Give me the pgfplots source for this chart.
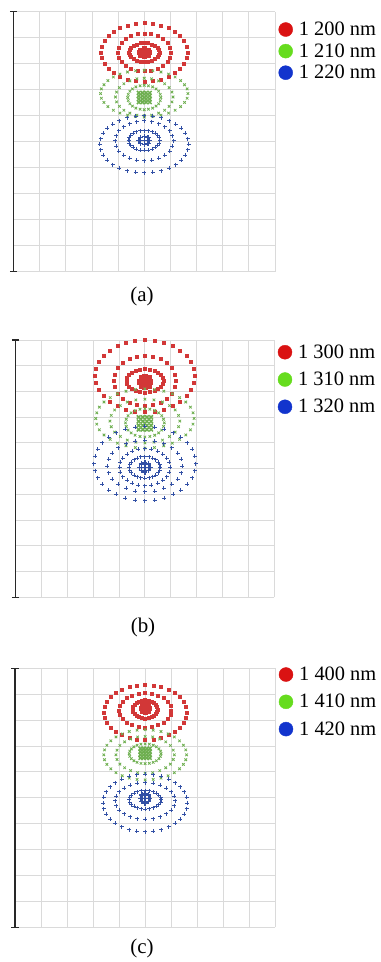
\documentclass[border=0pt]{standalone}
\usepackage{pgfplots}
\pgfplotsset{compat=1.18}
\usepackage{fontspec}
\setmainfont{Liberation Serif}
\newfontfamily\legfont{Liberation Serif}
\definecolor{ptred}{RGB}{210,55,55}
\definecolor{ptgreen}{RGB}{110,175,80}
\definecolor{ptblue}{RGB}{50,80,165}
\definecolor{lgred}{RGB}{218,18,18}
\definecolor{lggreen}{RGB}{102,220,30}
\definecolor{lgblue}{RGB}{18,52,205}
\definecolor{gridgray}{RGB}{218,218,218}
\definecolor{axisblack}{RGB}{40,40,40}
\pgfplotsset{
  spotaxis/.style={
    scale only axis, xmin=-5, xmax=5, ymin=-5, ymax=5,
    xtick={-5,...,5}, ytick={-5,...,5}, xticklabels={}, yticklabels={},
    major tick length=0pt, grid=major,
    major grid style={draw=gridgray, line width=0.9bp},
    axis line style={draw=none}, clip=false, anchor=north west,
    legend style={draw=none, fill=none, at={(1,1)}, anchor=north west,
      inner sep=0pt, outer sep=0pt, column sep=6bp,
      nodes={inner sep=0pt, font=\legfont\fontsize{20.5}{24}\selectfont}},
    legend cell align=left,
    legend image code/.code={\fill[##1] (7bp,0pt) circle (7bp);},
  },
  redpts/.style={only marks, mark=square*, mark size=1.5bp, color=ptred, forget plot},
  greenpts/.style={only marks, mark=x, mark size=1.8bp, line width=0.8bp, color=ptgreen, forget plot},
  bluepts/.style={only marks, mark=+, mark size=2bp, line width=0.9bp, color=ptblue, forget plot},
}
\newcommand{\leftaxis}{%
  \draw[axisblack, line width=1.8bp] (axis cs:-5,-5) -- (axis cs:-5,5);
  \draw[axisblack, line width=1.5bp] ([xshift=-3.5bp]axis cs:-5,5) -- ([xshift=3.5bp]axis cs:-5,5);
  \draw[axisblack, line width=1.5bp] ([xshift=-3.5bp]axis cs:-5,-5) -- ([xshift=3.5bp]axis cs:-5,-5);
}
\begin{document}
\begin{tikzpicture}
\useasboundingbox (0,0) rectangle (381bp,-962bp);

% ---------------- (a) ----------------
\begin{axis}[spotaxis, at={(13.5bp,-11.7bp)}, width=261.5bp, height=260bp,
  legend style={xshift=3.5bp, yshift=-10.3bp, row sep=6.5bp}]
\addplot[redpts] coordinates {
(1.65,3.44)(1.62,3.66)(1.52,3.87)(1.37,4.07)(1.17,4.24)(0.92,4.38)(0.63,4.48)(0.32,4.55)(0,4.57)
(-0.32,4.55)(-0.63,4.48)(-0.92,4.38)(-1.17,4.24)(-1.37,4.07)(-1.52,3.87)(-1.62,3.66)(-1.65,3.44)
(-1.62,3.22)(-1.52,3.01)(-1.37,2.81)(-1.17,2.64)(-0.92,2.50)(-0.63,2.40)(-0.32,2.33)(0,2.31)
(0.32,2.33)(0.63,2.40)(0.92,2.50)(1.17,2.64)(1.37,2.81)(1.52,3.01)(1.62,3.22)
(1.02,3.44)(0.99,3.63)(0.88,3.80)(0.72,3.95)(0.51,4.06)(0.26,4.14)(0,4.16)
(-0.26,4.14)(-0.51,4.06)(-0.72,3.95)(-0.88,3.80)(-0.99,3.63)(-1.02,3.44)
(-0.99,3.25)(-0.88,3.08)(-0.72,2.93)(-0.51,2.82)(-0.26,2.74)(0,2.72)
(0.26,2.74)(0.51,2.82)(0.72,2.93)(0.88,3.08)(0.99,3.25)
(0.58,3.44)(0.56,3.53)(0.50,3.62)(0.41,3.69)(0.29,3.75)(0.15,3.79)(0,3.80)
(-0.15,3.79)(-0.29,3.75)(-0.41,3.69)(-0.50,3.62)(-0.56,3.53)(-0.58,3.44)
(-0.56,3.35)(-0.50,3.26)(-0.41,3.19)(-0.29,3.13)(-0.15,3.09)(0,3.08)
(0.15,3.09)(0.29,3.13)(0.41,3.19)(0.50,3.26)(0.56,3.35)
};
\addplot[redpts, mark size=2.2bp] coordinates {
(0,3.44)(0.18,3.44)(0.13,3.53)(0,3.57)(-0.13,3.53)(-0.18,3.44)(-0.13,3.35)(0,3.31)(0.13,3.35)
};
\addplot[greenpts] coordinates {
(1.67,1.85)(1.64,2.03)(1.54,2.19)(1.39,2.35)(1.18,2.49)(0.93,2.60)(0.64,2.68)(0.33,2.73)(0,2.75)
(-0.33,2.73)(-0.64,2.68)(-0.93,2.60)(-1.18,2.49)(-1.39,2.35)(-1.54,2.19)(-1.64,2.03)(-1.67,1.85)
(-1.64,1.67)(-1.54,1.51)(-1.39,1.35)(-1.18,1.21)(-0.93,1.10)(-0.64,1.02)(-0.33,0.97)(0,0.95)
(0.33,0.97)(0.64,1.02)(0.93,1.10)(1.18,1.21)(1.39,1.35)(1.54,1.51)(1.64,1.67)
(1.10,1.72)(1.06,1.91)(0.95,2.08)(0.78,2.23)(0.55,2.34)(0.28,2.42)(0,2.44)
(-0.28,2.42)(-0.55,2.34)(-0.78,2.23)(-0.95,2.08)(-1.06,1.91)(-1.10,1.72)
(-1.06,1.53)(-0.95,1.36)(-0.78,1.21)(-0.55,1.10)(-0.28,1.02)(0,1.00)
(0.28,1.02)(0.55,1.10)(0.78,1.21)(0.95,1.36)(1.06,1.53)
(0.63,1.70)(0.61,1.82)(0.55,1.94)(0.45,2.03)(0.32,2.11)(0.16,2.15)(0,2.17)
(-0.16,2.15)(-0.32,2.11)(-0.45,2.03)(-0.55,1.94)(-0.61,1.82)(-0.63,1.70)
(-0.61,1.58)(-0.55,1.46)(-0.45,1.37)(-0.32,1.29)(-0.16,1.25)(0,1.23)
(0.16,1.25)(0.32,1.29)(0.45,1.37)(0.55,1.46)(0.61,1.58)
};
\addplot[greenpts, mark size=2.6bp, line width=1.5bp] coordinates {
(-0.21,1.52)(-0.07,1.52)(0.07,1.52)(0.21,1.52)
(-0.21,1.64)(-0.07,1.64)(0.07,1.64)(0.21,1.64)
(-0.21,1.76)(-0.07,1.76)(0.07,1.76)(0.21,1.76)
(-0.21,1.88)(-0.07,1.88)(0.07,1.88)(0.21,1.88)
};
\addplot[bluepts] coordinates {
(1.70,-0.10)(1.67,0.11)(1.57,0.32)(1.41,0.51)(1.20,0.68)(0.95,0.81)(0.65,0.92)(0.33,0.98)(0,1.00)
(-0.33,0.98)(-0.65,0.92)(-0.95,0.81)(-1.20,0.68)(-1.41,0.51)(-1.57,0.32)(-1.67,0.11)(-1.70,-0.10)
(-1.67,-0.31)(-1.57,-0.52)(-1.41,-0.71)(-1.20,-0.88)(-0.95,-1.01)(-0.65,-1.12)(-0.33,-1.18)(0,-1.20)
(0.33,-1.18)(0.65,-1.12)(0.95,-1.01)(1.20,-0.88)(1.41,-0.71)(1.57,-0.52)(1.67,-0.31)
(1.12,0.03)(1.08,0.23)(0.97,0.42)(0.79,0.57)(0.56,0.70)(0.29,0.77)(0,0.80)
(-0.29,0.77)(-0.56,0.70)(-0.79,0.57)(-0.97,0.42)(-1.08,0.23)(-1.12,0.03)
(-1.08,-0.17)(-0.97,-0.36)(-0.79,-0.51)(-0.56,-0.64)(-0.29,-0.71)(0,-0.74)
(0.29,-0.71)(0.56,-0.64)(0.79,-0.51)(0.97,-0.36)(1.08,-0.17)
(0.60,0.05)(0.58,0.15)(0.52,0.24)(0.42,0.32)(0.30,0.38)(0.16,0.42)(0,0.43)
(-0.16,0.42)(-0.30,0.38)(-0.42,0.32)(-0.52,0.24)(-0.58,0.15)(-0.60,0.05)
(-0.58,-0.05)(-0.52,-0.14)(-0.42,-0.22)(-0.30,-0.28)(-0.16,-0.32)(0,-0.33)
(0.16,-0.32)(0.30,-0.28)(0.42,-0.22)(0.52,-0.14)(0.58,-0.05)
};
\addplot[bluepts, mark size=2.6bp, line width=1.5bp] coordinates {
(0,0.05)(0.2,0.05)(0.14,0.16)(0,0.2)(-0.14,0.16)(-0.2,0.05)(-0.14,-0.06)(0,-0.1)(0.14,-0.06)
};
\leftaxis
\addlegendimage{lgred}\addlegendentry{1 200 nm}
\addlegendimage{lggreen}\addlegendentry{1 210 nm}
\addlegendimage{lgblue}\addlegendentry{1 220 nm}
\end{axis}

% ---------------- (b) ----------------
\begin{axis}[spotaxis, at={(15.5bp,-340bp)}, width=258.8bp, height=257.3bp,
  legend style={xshift=3.5bp, yshift=-4.7bp, row sep=12.2bp}]
\addplot[redpts] coordinates {
(1.93,3.60)(1.89,3.87)(1.78,4.14)(1.60,4.38)(1.36,4.59)(1.07,4.76)(0.74,4.89)(0.38,4.97)(0,5.00)
(-0.38,4.97)(-0.74,4.89)(-1.07,4.76)(-1.36,4.59)(-1.60,4.38)(-1.78,4.14)(-1.89,3.87)(-1.93,3.60)
(-1.89,3.33)(-1.78,3.06)(-1.60,2.82)(-1.36,2.61)(-1.07,2.44)(-0.74,2.31)(-0.38,2.23)(0,2.20)
(0.38,2.23)(0.74,2.31)(1.07,2.44)(1.36,2.61)(1.60,2.82)(1.78,3.06)(1.89,3.33)
(1.20,3.42)(1.16,3.67)(1.04,3.91)(0.85,4.11)(0.60,4.27)(0.31,4.37)(0,4.40)
(-0.31,4.37)(-0.60,4.27)(-0.85,4.11)(-1.04,3.91)(-1.16,3.67)(-1.20,3.42)
(-1.16,3.17)(-1.04,2.93)(-0.85,2.73)(-0.60,2.57)(-0.31,2.47)(0,2.44)
(0.31,2.47)(0.60,2.57)(0.85,2.73)(1.04,2.93)(1.16,3.17)
(0.72,3.42)(0.70,3.54)(0.62,3.64)(0.51,3.74)(0.36,3.81)(0.19,3.85)(0,3.87)
(-0.19,3.85)(-0.36,3.81)(-0.51,3.74)(-0.62,3.64)(-0.70,3.54)(-0.72,3.42)
(-0.70,3.30)(-0.62,3.20)(-0.51,3.10)(-0.36,3.03)(-0.19,2.99)(0,2.97)
(0.19,2.99)(0.36,3.03)(0.51,3.10)(0.62,3.20)(0.70,3.30)
};
\addplot[redpts, mark size=2.2bp] coordinates {
(0,3.38)(0.2,3.38)(0.14,3.54)(0,3.60)(-0.14,3.54)(-0.2,3.38)(-0.14,3.22)(0,3.16)(0.14,3.22)
};
\addplot[greenpts] coordinates {
(1.90,1.95)(1.86,2.17)(1.76,2.39)(1.58,2.59)(1.34,2.76)(1.06,2.91)(0.73,3.01)(0.37,3.08)(0,3.10)
(-0.37,3.08)(-0.73,3.01)(-1.06,2.91)(-1.34,2.76)(-1.58,2.59)(-1.76,2.39)(-1.86,2.17)(-1.90,1.95)
(-1.86,1.73)(-1.76,1.51)(-1.58,1.31)(-1.34,1.14)(-1.06,0.99)(-0.73,0.89)(-0.37,0.82)(0,0.80)
(0.37,0.82)(0.73,0.89)(1.06,0.99)(1.34,1.14)(1.58,1.31)(1.76,1.51)(1.86,1.73)
(1.35,1.85)(1.30,2.07)(1.17,2.28)(0.95,2.45)(0.68,2.59)(0.35,2.67)(0,2.70)
(-0.35,2.67)(-0.68,2.59)(-0.95,2.45)(-1.17,2.28)(-1.30,2.07)(-1.35,1.85)
(-1.30,1.63)(-1.17,1.42)(-0.95,1.25)(-0.68,1.11)(-0.35,1.03)(0,1.00)
(0.35,1.03)(0.68,1.11)(0.95,1.25)(1.17,1.42)(1.30,1.63)
(0.75,1.78)(0.72,1.92)(0.65,2.06)(0.53,2.17)(0.38,2.26)(0.19,2.31)(0,2.33)
(-0.19,2.31)(-0.38,2.26)(-0.53,2.17)(-0.65,2.06)(-0.72,1.92)(-0.75,1.78)
(-0.72,1.64)(-0.65,1.50)(-0.53,1.39)(-0.38,1.30)(-0.19,1.25)(0,1.23)
(0.19,1.25)(0.38,1.30)(0.53,1.39)(0.65,1.50)(0.72,1.64)
};
\addplot[greenpts, mark size=2.6bp, line width=1.5bp] coordinates {
(-0.24,1.52)(-0.08,1.52)(0.08,1.52)(0.24,1.52)
(-0.24,1.68)(-0.08,1.68)(0.08,1.68)(0.24,1.68)
(-0.24,1.84)(-0.08,1.84)(0.08,1.84)(0.24,1.84)
(-0.24,2.00)(-0.08,2.00)(0.08,2.00)(0.24,2.00)
};
\addplot[bluepts] coordinates {
(1.97,0.20)(1.93,0.48)(1.82,0.76)(1.64,1.01)(1.39,1.23)(1.10,1.40)(0.75,1.54)(0.38,1.62)(0,1.65)
(-0.38,1.62)(-0.75,1.54)(-1.10,1.40)(-1.39,1.23)(-1.64,1.01)(-1.82,0.76)(-1.93,0.48)(-1.97,0.20)
(-1.93,-0.08)(-1.82,-0.36)(-1.64,-0.61)(-1.39,-0.83)(-1.10,-1.00)(-0.75,-1.14)(-0.38,-1.22)(0,-1.25)
(0.38,-1.22)(0.75,-1.14)(1.10,-1.00)(1.39,-0.83)(1.64,-0.61)(1.82,-0.36)(1.93,-0.08)
(1.45,0.10)(1.40,0.36)(1.26,0.60)(1.03,0.81)(0.73,0.97)(0.38,1.07)(0,1.10)
(-0.38,1.07)(-0.73,0.97)(-1.03,0.81)(-1.26,0.60)(-1.40,0.36)(-1.45,0.10)
(-1.40,-0.16)(-1.26,-0.40)(-1.03,-0.61)(-0.73,-0.77)(-0.38,-0.87)(0,-0.90)
(0.38,-0.87)(0.73,-0.77)(1.03,-0.61)(1.26,-0.40)(1.40,-0.16)
(0.98,0.05)(0.95,0.24)(0.85,0.41)(0.69,0.56)(0.49,0.67)(0.25,0.75)(0,0.77)
(-0.25,0.75)(-0.49,0.67)(-0.69,0.56)(-0.85,0.41)(-0.95,0.24)(-0.98,0.05)
(-0.95,-0.14)(-0.85,-0.31)(-0.69,-0.46)(-0.49,-0.57)(-0.25,-0.65)(0,-0.67)
(0.25,-0.65)(0.49,-0.57)(0.69,-0.46)(0.85,-0.31)(0.95,-0.14)
(0.60,0.05)(0.58,0.16)(0.52,0.26)(0.42,0.35)(0.30,0.41)(0.16,0.46)(0,0.47)
(-0.16,0.46)(-0.30,0.41)(-0.42,0.35)(-0.52,0.26)(-0.58,0.16)(-0.60,0.05)
(-0.58,-0.06)(-0.52,-0.16)(-0.42,-0.25)(-0.30,-0.31)(-0.16,-0.36)(0,-0.37)
(0.16,-0.36)(0.30,-0.31)(0.42,-0.25)(0.52,-0.16)(0.58,-0.06)
};
\addplot[bluepts, mark size=2.6bp, line width=1.5bp] coordinates {
(0,0.05)(0.2,0.05)(0.14,0.18)(0,0.23)(-0.14,0.18)(-0.2,0.05)(-0.14,-0.08)(0,-0.13)(0.14,-0.08)
};
\leftaxis
\addlegendimage{lgred}\addlegendentry{1 300 nm}
\addlegendimage{lggreen}\addlegendentry{1 310 nm}
\addlegendimage{lgblue}\addlegendentry{1 320 nm}
\end{axis}

% ---------------- (c) ----------------
\begin{axis}[spotaxis, at={(15bp,-668.3bp)}, width=260.3bp, height=259bp,
  legend style={xshift=3.5bp, yshift=1.3bp, row sep=12.2bp}]
\addplot[redpts] coordinates {
(1.60,3.30)(1.57,3.51)(1.48,3.71)(1.33,3.89)(1.13,4.05)(0.89,4.18)(0.61,4.28)(0.31,4.34)(0,4.36)
(-0.31,4.34)(-0.61,4.28)(-0.89,4.18)(-1.13,4.05)(-1.33,3.89)(-1.48,3.71)(-1.57,3.51)(-1.60,3.30)
(-1.57,3.09)(-1.48,2.89)(-1.33,2.71)(-1.13,2.55)(-0.89,2.42)(-0.61,2.32)(-0.31,2.26)(0,2.24)
(0.31,2.26)(0.61,2.32)(0.89,2.42)(1.13,2.55)(1.33,2.71)(1.48,2.89)(1.57,3.09)
(1.00,3.38)(0.97,3.55)(0.87,3.71)(0.71,3.85)(0.50,3.95)(0.26,4.02)(0,4.04)
(-0.26,4.02)(-0.50,3.95)(-0.71,3.85)(-0.87,3.71)(-0.97,3.55)(-1.00,3.38)
(-0.97,3.21)(-0.87,3.05)(-0.71,2.91)(-0.50,2.81)(-0.26,2.74)(0,2.72)
(0.26,2.74)(0.50,2.81)(0.71,2.91)(0.87,3.05)(0.97,3.21)
(0.48,3.42)(0.46,3.51)(0.42,3.60)(0.34,3.67)(0.24,3.72)(0.12,3.76)(0,3.77)
(-0.12,3.76)(-0.24,3.72)(-0.34,3.67)(-0.42,3.60)(-0.46,3.51)(-0.48,3.42)
(-0.46,3.33)(-0.42,3.24)(-0.34,3.17)(-0.24,3.12)(-0.12,3.08)(0,3.07)
(0.12,3.08)(0.24,3.12)(0.34,3.17)(0.42,3.24)(0.46,3.33)
};
\addplot[redpts, mark size=2.2bp] coordinates {
(0,3.45)(0.15,3.45)(0.11,3.56)(0,3.60)(-0.11,3.56)(-0.15,3.45)(-0.11,3.34)(0,3.30)(0.11,3.34)
};
\addplot[greenpts] coordinates {
(1.59,1.66)(1.56,1.85)(1.47,2.03)(1.32,2.20)(1.12,2.35)(0.88,2.47)(0.61,2.56)(0.31,2.61)(0,2.63)
(-0.31,2.61)(-0.61,2.56)(-0.88,2.47)(-1.12,2.35)(-1.32,2.20)(-1.47,2.03)(-1.56,1.85)(-1.59,1.66)
(-1.56,1.47)(-1.47,1.29)(-1.32,1.12)(-1.12,0.97)(-0.88,0.85)(-0.61,0.76)(-0.31,0.71)(0,0.69)
(0.31,0.71)(0.61,0.76)(0.88,0.85)(1.12,0.97)(1.32,1.12)(1.47,1.29)(1.56,1.47)
(1.12,1.66)(1.08,1.84)(0.97,2.02)(0.79,2.16)(0.56,2.27)(0.29,2.35)(0,2.37)
(-0.29,2.35)(-0.56,2.27)(-0.79,2.16)(-0.97,2.02)(-1.08,1.84)(-1.12,1.66)
(-1.08,1.48)(-0.97,1.30)(-0.79,1.16)(-0.56,1.05)(-0.29,0.97)(0,0.95)
(0.29,0.97)(0.56,1.05)(0.79,1.16)(0.97,1.30)(1.08,1.48)
(0.61,1.70)(0.59,1.80)(0.53,1.89)(0.43,1.97)(0.31,2.03)(0.16,2.07)(0,2.08)
(-0.16,2.07)(-0.31,2.03)(-0.43,1.97)(-0.53,1.89)(-0.59,1.80)(-0.61,1.70)
(-0.59,1.60)(-0.53,1.51)(-0.43,1.43)(-0.31,1.37)(-0.16,1.33)(0,1.32)
(0.16,1.33)(0.31,1.37)(0.43,1.43)(0.53,1.51)(0.59,1.60)
};
\addplot[greenpts, mark size=2.6bp, line width=1.5bp] coordinates {
(-0.18,1.54)(-0.06,1.54)(0.06,1.54)(0.18,1.54)
(-0.18,1.66)(-0.06,1.66)(0.06,1.66)(0.18,1.66)
(-0.18,1.78)(-0.06,1.78)(0.06,1.78)(0.18,1.78)
(-0.18,1.90)(-0.06,1.90)(0.06,1.90)(0.18,1.90)
};
\addplot[bluepts] coordinates {
(1.62,-0.20)(1.59,0.02)(1.50,0.23)(1.35,0.42)(1.15,0.58)(0.90,0.72)(0.62,0.83)(0.32,0.89)(0,0.91)
(-0.32,0.89)(-0.62,0.83)(-0.90,0.72)(-1.15,0.58)(-1.35,0.42)(-1.50,0.23)(-1.59,0.02)(-1.62,-0.20)
(-1.59,-0.42)(-1.50,-0.63)(-1.35,-0.82)(-1.15,-0.98)(-0.90,-1.12)(-0.62,-1.23)(-0.32,-1.29)(0,-1.31)
(0.32,-1.29)(0.62,-1.23)(0.90,-1.12)(1.15,-0.98)(1.35,-0.82)(1.50,-0.63)(1.59,-0.42)
(1.15,-0.12)(1.11,0.06)(1.00,0.24)(0.81,0.38)(0.58,0.49)(0.30,0.57)(0,0.59)
(-0.30,0.57)(-0.58,0.49)(-0.81,0.38)(-1.00,0.24)(-1.11,0.06)(-1.15,-0.12)
(-1.11,-0.30)(-1.00,-0.48)(-0.81,-0.62)(-0.58,-0.73)(-0.30,-0.81)(0,-0.83)
(0.30,-0.81)(0.58,-0.73)(0.81,-0.62)(1.00,-0.48)(1.11,-0.30)
(0.61,-0.08)(0.59,0.01)(0.53,0.10)(0.43,0.17)(0.31,0.23)(0.16,0.27)(0,0.28)
(-0.16,0.27)(-0.31,0.23)(-0.43,0.17)(-0.53,0.10)(-0.59,0.01)(-0.61,-0.08)
(-0.59,-0.17)(-0.53,-0.26)(-0.43,-0.33)(-0.31,-0.39)(-0.16,-0.43)(0,-0.44)
(0.16,-0.43)(0.31,-0.39)(0.43,-0.33)(0.53,-0.26)(0.59,-0.17)
};
\addplot[bluepts, mark size=2.6bp, line width=1.5bp] coordinates {
(0,-0.02)(0.18,-0.02)(0.13,0.11)(0,0.16)(-0.13,0.11)(-0.18,-0.02)(-0.13,-0.15)(0,-0.2)(0.13,-0.15)
};
\leftaxis
\addlegendimage{lgred}\addlegendentry{1 400 nm}
\addlegendimage{lggreen}\addlegendentry{1 410 nm}
\addlegendimage{lgblue}\addlegendentry{1 420 nm}
\end{axis}

% captions
\node[font=\fontsize{21}{25}\selectfont] at (142bp,-296.6bp) {(a)};
\node[font=\fontsize{21}{25}\selectfont] at (143bp,-627bp) {(b)};
\node[font=\fontsize{21}{25}\selectfont] at (142bp,-948bp) {(c)};
\end{tikzpicture}
\end{document}
